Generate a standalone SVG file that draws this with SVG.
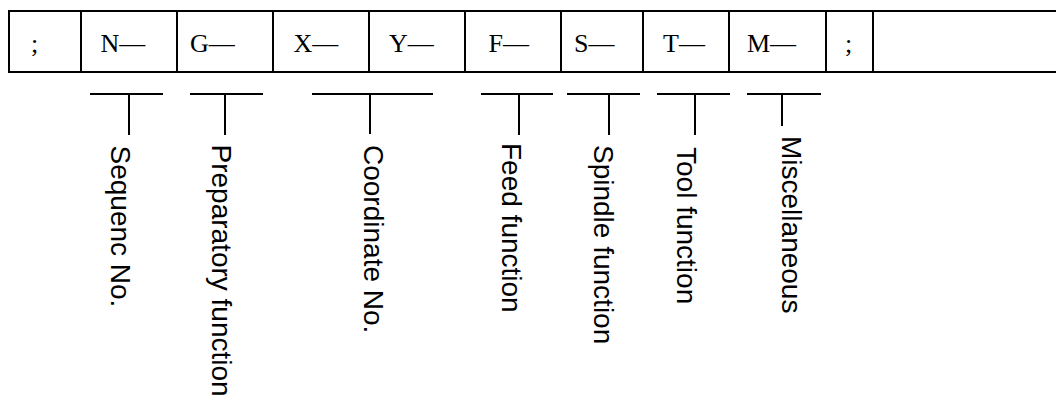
<svg xmlns="http://www.w3.org/2000/svg" width="1056" height="396" viewBox="0 0 1056 396">
<style>
.ln{stroke:#000;stroke-width:2;fill:none}
.cell{font-family:"Liberation Serif","Times New Roman",serif;font-size:26px;fill:#000}
.lbl{font-family:"Liberation Sans",Arial,sans-serif;font-size:28px;fill:#000}
</style>
<rect width="1056" height="396" fill="#fff"/>
<g id="table">
<path class="ln" d="M1057 11 H9 V72 H1057"/>
<path class="ln" d="M81 11V72M177 11V72M273 11V72M369 11V72M465 11V72M561 11V72M643 11V72M729 11V72M826 11V72M873 11V72"/>
<text class="cell" x="31" y="52">;</text>
<text class="cell" x="100.5" y="52">N—</text>
<text class="cell" x="190" y="52">G—</text>
<text class="cell" x="293.5" y="52">X—</text>
<text class="cell" x="389" y="52">Y—</text>
<text class="cell" x="488.5" y="52">F—</text>
<text class="cell" x="574" y="52">S—</text>
<text class="cell" x="663" y="52">T—</text>
<text class="cell" x="747" y="52">M—</text>
<text class="cell" x="845" y="52">;</text>
</g>
<g id="connectors">
<path class="ln" d="M90 94H163M129 94V135"/>
<path class="ln" d="M190 94H263M225 94V135"/>
<path class="ln" d="M312 94H433M370 94V134"/>
<path class="ln" d="M481 94H553M519 94V135"/>
<path class="ln" d="M567 94H640M609 94V135"/>
<path class="ln" d="M657 94H730M695 94V135"/>
<path class="ln" d="M747 94H821M782 94V126"/>
</g>
<g id="label-sequence"><text class="lbl" transform="translate(111,145.5) rotate(90)">Sequenc No.</text></g>
<g id="label-preparatory"><text class="lbl" transform="translate(212,144.5) rotate(90)">Preparatory function</text></g>
<g id="label-coordinate"><text class="lbl" transform="translate(364,145) rotate(90)">Coordinate No.</text></g>
<g id="label-feed"><text class="lbl" transform="translate(502,143) rotate(90)">Feed function</text></g>
<g id="label-spindle"><text class="lbl" transform="translate(594,145) rotate(90)">Spindle function</text></g>
<g id="label-tool"><text class="lbl" transform="translate(677,147) rotate(90)">Tool function</text></g>
<g id="label-misc"><text class="lbl" transform="translate(782,136) rotate(90)">Miscellaneous</text></g>
</svg>
